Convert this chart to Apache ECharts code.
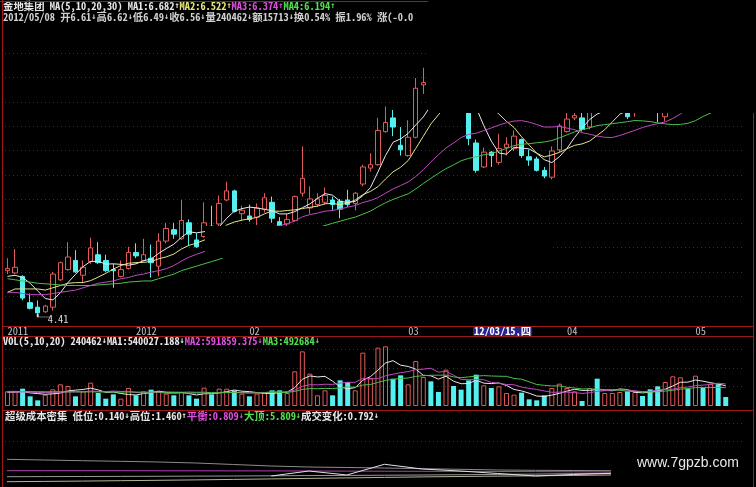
<!DOCTYPE html>
<html><head><meta charset="utf-8">
<script src="https://cdn.jsdelivr.net/npm/echarts/dist/echarts.min.js"></script>
<style>html,body{margin:0;padding:0;background:#000}#c{width:756px;height:487px}</style>
</head><body><div id="c"></div>
<script>
// ---- candles (price) ----
const openP = [4.79,4.77,4.74,4.51,4.47,4.43,4.47,4.71,4.80,4.88,
 4.75,4.87,4.93,4.88,4.80,4.74,4.81,4.95,4.88,4.90,
 4.83,5.05,5.15,5.07,5.21,5.06,5.09,5.18,5.20,5.41,
 5.49,5.29,5.27,5.26,5.33,5.39,5.22,5.20,5.23,5.47,
 5.34,5.37,5.39,5.41,5.40,5.41,5.38,5.55,5.69,5.72,
 6.01,6.13,5.89,5.80,5.96,6.42,6.62,6.60,6.50,6.60,
 6.46,6.35,5.91,5.70,5.83,5.74,5.87,5.86,5.94,5.79,
 5.77,5.67,5.61,5.85,6.01,6.13,6.13,6.05,6.33,6.22,
 6.27,6.28,6.25,6.18,6.33,6.30,6.22,6.14,6.26,6.40,
 6.72,6.56,6.85,6.68,6.70,6.61];
const closeP = [4.81,4.82,4.55,4.46,4.42,4.48,4.76,4.86,4.91,4.78,
 4.82,4.99,4.86,4.79,4.79,4.80,4.95,4.92,4.93,4.86,
 5.05,5.16,5.11,5.23,5.11,5.00,5.21,5.17,5.38,5.49,
 5.31,5.32,5.24,5.34,5.43,5.25,5.18,5.24,5.44,5.60,
 5.42,5.42,5.45,5.37,5.33,5.37,5.47,5.70,5.72,6.02,
 6.09,6.05,5.85,5.96,6.39,6.44,6.55,6.50,6.62,6.48,
 6.38,5.95,5.67,5.83,5.80,5.86,5.90,5.97,5.80,5.76,
 5.67,5.62,5.84,6.06,6.12,6.15,6.03,6.22,6.30,6.26,
 6.35,6.30,6.14,6.26,6.30,6.24,6.21,6.26,6.40,6.55,
 6.68,6.62,6.80,6.72,6.60,6.56];
const lowP = [4.76,4.76,4.53,4.45,4.41,4.42,4.44,4.70,4.79,4.77,
 4.68,4.85,4.85,4.78,4.64,4.73,4.80,4.90,4.87,4.73,
 4.74,5.03,5.07,5.06,5.01,4.99,5.08,5.06,5.18,5.40,
 5.30,5.23,5.22,5.19,5.30,5.21,5.17,5.18,5.22,5.44,
 5.29,5.35,5.37,5.32,5.25,5.35,5.32,5.53,5.66,5.71,
 6.00,5.97,5.80,5.79,5.95,6.34,6.45,6.46,6.47,6.42,
 6.30,5.89,5.65,5.69,5.70,5.72,5.80,5.84,5.78,5.71,
 5.66,5.60,5.59,5.83,6.00,6.11,6.01,6.03,6.22,6.20,
 6.24,6.25,6.12,6.14,6.22,6.20,6.09,6.10,6.24,6.38,
 6.58,6.52,6.70,6.62,6.55,6.49];
const highP = [4.90,4.98,4.75,4.59,4.53,4.49,4.78,4.87,5.04,4.97,
 4.88,5.08,5.04,4.93,4.85,4.88,5.00,5.03,5.07,5.02,
 5.12,5.21,5.21,5.41,5.24,5.12,5.39,5.36,5.45,5.57,
 5.50,5.36,5.37,5.38,5.47,5.44,5.26,5.29,5.45,5.88,
 5.53,5.47,5.52,5.44,5.42,5.50,5.48,5.72,5.82,6.13,
 6.23,6.20,6.05,6.11,6.48,6.57,6.66,6.66,6.70,6.65,
 6.50,6.38,5.94,5.87,5.84,5.99,5.96,6.02,5.95,5.85,
 5.79,5.70,5.88,6.08,6.20,6.22,6.20,6.25,6.38,6.32,
 6.38,6.40,6.30,6.30,6.36,6.33,6.28,6.30,6.45,6.60,
 6.76,6.70,6.88,6.80,6.75,6.62];

// ---- price moving averages ----
const ma1 = [4.74,4.75,4.73,4.68,4.612,4.546,4.534,4.596,4.686,4.758,
 4.826,4.872,4.872,4.848,4.85,4.846,4.838,4.85,4.878,4.892,
 4.942,4.984,5.022,5.082,5.132,5.122,5.132,5.144,5.174,5.25,
 5.312,5.334,5.348,5.34,5.328,5.316,5.288,5.288,5.308,5.342,
 5.376,5.424,5.466,5.452,5.398,5.388,5.398,5.448,5.518,5.656,
 5.80,5.916,5.946,5.994,6.068,6.138,6.238,6.368,6.50,6.518,
 6.506,6.386,6.22,6.062,5.926,5.822,5.812,5.872,5.866,5.858,
 5.82,5.764,5.738,5.79,5.862,5.958,6.04,6.116,6.164,6.192,
 6.232,6.286,6.27,6.262,6.27,6.248,6.23,6.254,6.282,6.332,
 6.42,6.502,6.61,6.674,6.684,6.66];
const ma2 = [4.60,4.63,4.63,4.63,4.63,4.62,4.64,4.66,4.68,4.685,
 4.686,4.703,4.734,4.767,4.804,4.836,4.855,4.861,4.863,4.871,
 4.894,4.911,4.936,4.98,5.012,5.032,5.058,5.083,5.128,5.191,
 5.217,5.233,5.246,5.257,5.289,5.314,5.311,5.318,5.324,5.335,
 5.346,5.356,5.377,5.38,5.37,5.382,5.411,5.457,5.485,5.527,
 5.594,5.657,5.697,5.756,5.862,5.969,6.077,6.157,6.247,6.293,
 6.322,6.312,6.294,6.281,6.222,6.164,6.099,6.046,5.964,5.892,
 5.821,5.788,5.805,5.828,5.86,5.889,5.902,5.927,5.977,6.027,
 6.095,6.163,6.193,6.213,6.231,6.24,6.258,6.262,6.272,6.301,
 6.334,6.366,6.432,6.478,6.508,6.54];
const ma3 = [4.60,4.60,4.59,4.58,4.58,4.58,4.59,4.60,4.61,4.62,
 4.64,4.66,4.68,4.69,4.70,4.72,4.73,4.75,4.76,4.778,
 4.79,4.807,4.835,4.874,4.908,4.934,4.957,4.972,4.996,5.031,
 5.056,5.072,5.091,5.119,5.151,5.173,5.185,5.201,5.226,5.263,
 5.282,5.295,5.312,5.319,5.33,5.348,5.361,5.388,5.405,5.431,
 5.47,5.507,5.537,5.568,5.616,5.676,5.744,5.807,5.866,5.91,
 5.958,5.985,5.996,6.019,6.042,6.067,6.088,6.102,6.106,6.093,
 6.072,6.05,6.05,6.055,6.041,6.027,6.001,5.987,5.971,5.96,
 5.958,5.976,5.999,6.021,6.046,6.065,6.08,6.095,6.125,6.164,
 6.215,6.265,6.313,6.346,6.37,6.39];
const ma4 = [4.72,4.71,4.70,4.69,4.68,4.675,4.67,4.665,4.66,4.66,
 4.66,4.66,4.665,4.67,4.675,4.68,4.69,4.695,4.70,4.70,
 4.72,4.74,4.76,4.79,4.81,4.83,4.85,4.87,4.89,4.916,
 4.932,4.949,4.972,5.001,5.035,5.061,5.075,5.087,5.105,5.132,
 5.152,5.167,5.186,5.206,5.224,5.243,5.26,5.286,5.312,5.351,
 5.386,5.415,5.44,5.464,5.507,5.555,5.60,5.644,5.685,5.718,
 5.754,5.775,5.789,5.806,5.818,5.838,5.862,5.887,5.899,5.904,
 5.912,5.919,5.932,5.955,5.981,6.007,6.026,6.043,6.063,6.071,
 6.079,6.088,6.097,6.107,6.104,6.098,6.086,6.078,6.071,6.073,
 6.083,6.106,6.143,6.173,6.20,6.223];

// ---- volume ----
const volume = [391600,391600,462800,258100,151300,302600,445000,578500,534000,258100,
 391600,623000,347100,195800,311500,195800,480600,284800,391600,436100,
 391600,329300,284800,373800,284800,195800,489500,311500,462800,462800,
 409400,329300,258100,329300,347100,418300,418300,347100,925600,1459600,
 863300,284800,418300,284800,685300,640800,418300,1424000,747600,1557500,
 1593100,729800,818800,578500,1201500,774300,658600,373800,970100,534000,
 436100,685300,836600,551800,480600,525100,347100,302600,356000,178000,
 151300,284800,480600,596300,480600,391600,133500,480600,729800,347100,
 347100,373800,391600,373800,267000,445000,525100,640800,792100,765400,
 462800,809900,480600,596300,578500,240462];
const volMa1 = [360000,370000,380000,350000,331100,313300,324000,347100,402300,423600,
 441400,477000,430800,363100,373800,334600,306200,293700,332900,357800,
 396900,366700,366700,363100,332900,293700,325700,331100,348900,384500,
 427200,395200,384500,357800,334600,336400,354200,372000,491300,713800,
 802800,776100,790300,662200,507300,462800,489500,690600,783200,957600,
 1148100,1210400,1089400,1055500,984300,820600,806300,717300,795700,662200,
 594500,599900,692400,608800,598100,615900,548200,441400,402300,341800,
 267000,254500,290100,338200,398700,446800,416500,416500,443200,416500,
 407600,455700,437900,366700,350700,370200,400500,450300,534000,633700,
 637200,694200,662200,623000,585600,541200];
const volMa2 = [370000,370000,375000,370000,360000,360000,365000,370000,375000,377400,
 377400,400500,388900,382700,398700,388000,391600,362200,348000,365800,
 365800,336400,330200,348000,345300,345300,346200,348900,356000,358700,
 360500,360500,357800,353300,359600,381800,374700,378300,424500,524200,
 569600,565200,581200,576700,610500,632800,632800,740500,722700,732500,
 805500,850000,890000,919400,971000,984300,1008400,903400,925600,823300,
 707600,703100,704900,702200,630100,605200,574100,566900,505500,469900,
 441400,401400,365800,370200,370200,356900,335500,353300,390700,407600,
 427200,436100,427200,405000,383600,388900,428100,444100,450300,492200,
 503700,547400,556300,578500,609700,589200];
const volMa3 = [390000,390000,388000,385000,382000,380000,380000,380000,380000,378000,
 376000,376000,375000,374000,373000,372000,372000,371000,370000,371600,
 371600,368500,359600,365300,372000,366700,368900,355600,352000,362200,
 363100,348400,344000,350700,352400,363600,360500,363600,390300,441400,
 465000,462800,469500,465000,485100,507300,503700,559400,573600,628300,
 687500,707600,735600,748000,790800,808600,820600,821900,824100,777900,
 756500,776500,797400,810800,800600,794800,791200,735100,715600,646600,
 574500,552200,535300,536200,500200,481000,454800,460100,448100,438800,
 434300,418700,396500,387600,376900,372900,381800,398700,420500,449900,
 465500,491700,491700,491700,496600,489100];

// ---- date axis tick labels ----
const tickIdx = [0,17,32,53,74,91];
const tickText = ['2011','2012','02','03','04','05'];

// ---- 超级成本密集 indicator (17 sample points) ----
const indTop  = [7.91,7.71,7.51,7.34,7.14,6.86,6.43,6.0,5.71,5.57,5.43,5.23,5.06,4.86,4.77,4.71,4.66];
const indMid  = [4.66,4.66,4.66,4.66,4.63,4.63,4.60,4.60,4.57,4.54,4.51,4.49,4.46,4.43,4.40,4.34,4.29];
const indLow  = [2.94,2.97,3.0,3.03,3.06,3.11,3.14,3.2,3.26,3.31,3.37,3.43,3.51,3.6,3.69,3.8,3.91];
const indBot  = [1.51,1.6,1.69,1.8,1.91,2.03,2.17,2.31,2.46,2.6,2.74,2.89,3.0,3.11,3.2,3.31,3.43];
const indWave = [null,null,null,null,null,null,null,3.14,4.57,3.43,6.49,5.14,4.57,3.86,3.14,3.57,3.91];

// ================= build =================
const MONO = '"Noto Sans Mono CJK SC","DejaVu Sans Mono",monospace';
const FS = 10.4;
const UP = '#e05a5a', DN = '#54f0f0', RED = '#a01818', DOT = '#7a1414';
const cats = closeP.map((_, i) => String(i));
const indCats = indTop.map((_, i) => String(i));
const labelAt = {}; tickIdx.forEach((k, j) => labelAt[k] = tickText[j]);

const candleData = openP.map((o, i) => [o, closeP[i], lowP[i], highP[i]]);
const volData = volume.map((v, i) => ({
  value: v,
  itemStyle: closeP[i] >= openP[i]
    ? {color: 'rgba(0,0,0,0)', borderColor: UP, borderWidth: 1}
    : {color: DN, borderColor: DN, borderWidth: 0}
}));

const COLORS = {w:'#e6e6e6', y:'#e6e67a', m:'#e050e0', g:'#50e050', l:'#cfcfcf'};
const richStyles = {};
Object.keys(COLORS).forEach(k => {
  richStyles[k] = {color: COLORS[k], fontFamily: MONO, fontSize: FS, lineHeight: 12};
  richStyles[k + 'A'] = {color: COLORS[k], fontFamily: '"DejaVu Sans Mono",monospace', fontSize: 8.6, lineHeight: 12};
});
function richText(segs) {
  let s = '';
  segs.forEach(([t, k]) => {
    t.split(/([↑↓])/).forEach(p => {
      if (!p) return;
      s += (p === '↑' || p === '↓') ? `{${k}A|${p}}` : `{${k}|${p}}`;
    });
  });
  return s;
}
function header(segs, left, top) {
  return {left, top, padding: 0, text: richText(segs), z: 50,
    textStyle: {rich: richStyles, fontFamily: MONO, fontSize: FS, lineHeight: 12}};
}

const titles = [
  header([['金地集团 MA(5,10,20,30) MA1:6.682↑','w'],['MA2:6.522↑','y'],['MA3:6.374↑','m'],['MA4:6.194↑','g']], 3, 0),
  header([['2012/05/08 开6.61↓高6.62↓低6.49↓收6.56↓量240462↓额15713↓换0.54% 振1.96% 涨(-0.0','l']], 3, 11),
  header([['VOL(5,10,20) 240462↓MA1:540027.188↓','w'],['MA2:591859.375↓','m'],['MA3:492684↓','g']], 3, 335),
  header([['超级成本密集 低位:0.140↓高位:1.460↑','w'],['平衡:0.809↓','m'],['大顶:5.809↓','g'],['成交变化:0.792↓','w']], 5, 410),
  {left: 473, top: 327, padding: [0, 1], backgroundColor: '#24248c', text: '12/03/15,四', z: 50,
   textStyle: {color: '#ffffff', fontFamily: MONO, fontSize: FS, lineHeight: 9}},
  {left: 637, top: 455, padding: 0, text: 'www.7gpzb.com', z: 50,
   textStyle: {color: '#e8e8e8', fontFamily: '"Liberation Sans",Arial,sans-serif', fontSize: 14, fontWeight: 'normal', lineHeight: 16}}
];

// decorations
const gfx = [];
function hline(y, x1, x2, dotted) {
  gfx.push({type: 'line', silent: true, z: dotted ? 0 : 60,
    shape: {x1, y1: y + 0.5, x2, y2: y + 0.5},
    style: {stroke: dotted ? DOT : RED, lineWidth: 1, lineDash: dotted ? [1, 3] : null}});
}
function vline(x, y1, y2) {
  gfx.push({type: 'line', silent: true, z: 60,
    shape: {x1: x + 0.5, y1, x2: x + 0.5, y2}, style: {stroke: RED, lineWidth: 1}});
}
for (let k = 0; k < 11; k++) hline(Math.round(53 + k * 24.3), 5, 745, true);
[349, 368, 386].forEach(y => hline(y, 5, 745, true));
[423, 441].forEach(y => hline(y, 5, 745, true));
hline(326, 2, 753, false);
hline(336, 2, 753, false);
hline(410, 2, 753, false);
hline(1, 0, 428, false);
vline(2, 0, 487);
vline(753, 113, 487);
// masked (blacked-out) regions of the screenshot
gfx.push({type: 'rect', silent: true, z: 100, shape: {x: 428, y: 0, width: 328, height: 113}, style: {fill: '#000'}});
gfx.push({type: 'rect', silent: true, z: 100, shape: {x: 205, y: 226, width: 348, height: 32}, style: {fill: '#000'}});

const lineS = (data, color, xi, yi, z) => ({type: 'line', data, xAxisIndex: xi, yAxisIndex: yi,
  symbol: 'none', silent: true, z: z || 3, lineStyle: {width: 1, color}, itemStyle: {color}});

const option = {
  backgroundColor: '#000',
  animation: false,
  title: titles,
  graphic: gfx,
  grid: [
    {left: 3.7, width: 725.8, top: 30, height: 296},
    {left: 3.7, width: 725.8, top: 336, height: 70},
    {left: 7, width: 604, top: 452, height: 35}
  ],
  xAxis: [
    {type: 'category', gridIndex: 0, data: cats, boundaryGap: true,
     axisLine: {show: false}, axisTick: {show: false}, splitLine: {show: false},
     axisLabel: {show: true, interval: (i) => labelAt[i] !== undefined,
       formatter: (v, i) => labelAt[i] || '', align: 'left', verticalAlign: 'middle', margin: 5,
       color: '#b8c4cc', fontFamily: MONO, fontSize: FS}},
    {type: 'category', gridIndex: 1, data: cats, boundaryGap: true, show: false},
    {type: 'category', gridIndex: 2, data: indCats, boundaryGap: false, show: false}
  ],
  yAxis: [
    {type: 'value', gridIndex: 0, min: 4.305, max: 6.901, show: false},
    {type: 'value', gridIndex: 1, min: 0, max: 1869000, show: false},
    {type: 'value', gridIndex: 2, min: 0, max: 10, show: false}
  ],
  series: [
    {type: 'candlestick', xAxisIndex: 0, yAxisIndex: 0, data: candleData, barWidth: 5, silent: true,
     itemStyle: {color: 'rgba(0,0,0,0)', color0: DN, borderColor: UP, borderColor0: DN, borderWidth: 1},
     markPoint: {
       symbol: 'path://M0,0 L0,3 L12,3', symbolSize: [12, 3], symbolOffset: [6, 1.5],
       itemStyle: {color: 'none', borderColor: '#d8d8d8', borderWidth: 1},
       label: {show: true, position: [15, 6], align: 'left', verticalAlign: 'middle',
         formatter: (p) => p.value.toFixed(2), color: '#d8d8d8', fontFamily: MONO, fontSize: FS},
       data: [{type: 'min', valueDim: 'lowest'}]
     }},
    lineS(ma1, '#ececec', 0, 0),
    lineS(ma2, '#e4e48c', 0, 0),
    lineS(ma3, '#c048c0', 0, 0),
    lineS(ma4, '#4cbf4c', 0, 0),
    {type: 'bar', xAxisIndex: 1, yAxisIndex: 1, data: volData, barWidth: 5, silent: true},
    lineS(volMa1, '#e8e8e8', 1, 1),
    lineS(volMa2, '#c048c0', 1, 1),
    lineS(volMa3, '#4cbf4c', 1, 1),
    lineS(indTop, '#8c8c8c', 2, 2),
    lineS(indMid, '#b040b0', 2, 2),
    lineS(indLow, '#9a9a9a', 2, 2),
    lineS(indBot, '#b4b494', 2, 2),
    lineS(indWave, '#e0e0e0', 2, 2, 4)
  ]
};
echarts.init(document.getElementById('c'), null, {renderer: 'canvas'}).setOption(option);
</script>
</body></html>
